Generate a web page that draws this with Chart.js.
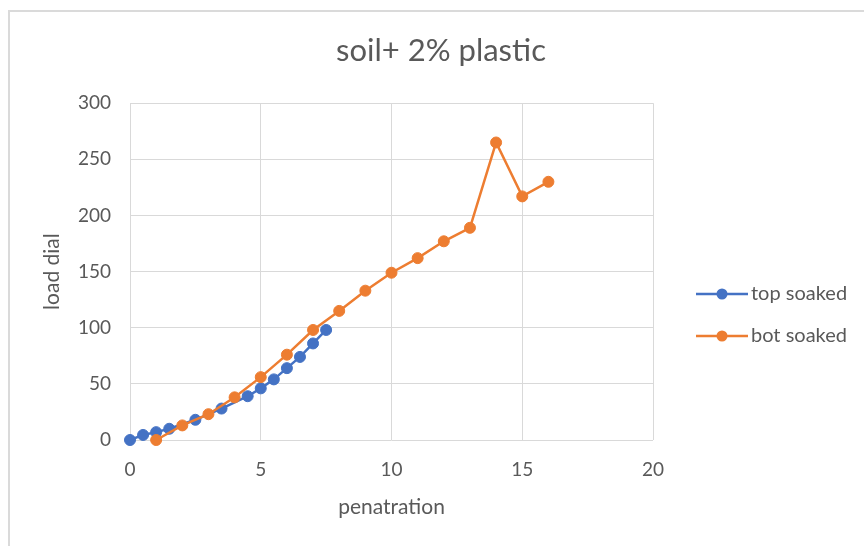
<!DOCTYPE html>
<html lang="en">
<head>
<meta charset="UTF-8"/>
<title>soil+ 2% plastic</title>
<script src="https://cdn.jsdelivr.net/npm/chart.js"></script>
<style>
 html,body{margin:0;padding:0;background:#fff;overflow:hidden}
 #frame{position:absolute;left:8px;top:10px;width:900px;height:600px;border:2px solid #dadada;border-right:none;border-bottom:none}
 canvas{position:absolute;left:0;top:0}
</style>
</head>
<body>
<div id="frame"></div>
<canvas id="chart" width="864" height="546"></canvas>

<script>
// values
const topX    = [0, 0.5, 1, 1.5, 2.5, 3.5, 4.5, 5, 5.5, 6, 6.5, 7, 7.5];
const topLoad = [0, 4.5, 7, 10, 18, 28, 39, 46, 54, 64, 74, 86, 98];
const botX    = [1, 2, 3, 4, 5, 6, 7, 8, 9, 10, 11, 12, 13, 14, 15, 16];
const botLoad = [0, 13, 23, 38, 56, 76, 98, 115, 133, 149, 162, 177, 189, 265, 217, 230];
const xTicks = [0, 5, 10, 15, 20];
const yTicks = [0, 50, 100, 150, 200, 250, 300];
const seriesNames = ['top soaked', 'bot soaked'];
const seriesColors = ['#4472C4', '#ED7D31'];

const FONT = 'Lato, "Open Sans", sans-serif';
const TXT = '#595959';
const GRID = '#d9d9d9';

const pts = (xs, ys) => xs.map((x, i) => ({x, y: ys[i]}));

// excel style legend on the right: short line with a dot, then the name
const sideLegend = {
  id: 'sideLegend',
  afterDraw(chart) {
    const ctx = chart.ctx;
    const ys = [294, 336];
    ctx.save();
    seriesNames.forEach((name, i) => {
      const y = ys[i];
      ctx.strokeStyle = seriesColors[i];
      ctx.lineWidth = 2.5;
      ctx.beginPath(); ctx.moveTo(696, y); ctx.lineTo(748, y); ctx.stroke();
      ctx.fillStyle = seriesColors[i];
      ctx.beginPath(); ctx.arc(722, y, 5.5, 0, Math.PI * 2); ctx.fill();
      ctx.fillStyle = TXT;
      ctx.font = '20px ' + FONT;
      ctx.textAlign = 'left';
      ctx.textBaseline = 'middle';
      ctx.fillText(name, 751, y);
    });
    ctx.restore();
  }
};

const mkSet = (i, data, order) => ({
  label: seriesNames[i],
  data,
  showLine: true,
  borderColor: seriesColors[i],
  backgroundColor: seriesColors[i],
  borderWidth: 2.5,
  pointRadius: 5.5,
  pointBorderWidth: 1,
  clip: false,
  order
});

new Chart(document.getElementById('chart'), {
  type: 'scatter',
  data: {
    datasets: [
      mkSet(0, pts(topX, topLoad), 2),
      mkSet(1, pts(botX, botLoad), 1)
    ]
  },
  options: {
    responsive: false,
    animation: false,
    layout: {padding: {left: 18, top: 0, right: 0, bottom: 0}},
    plugins: {
      legend: {display: false},
      tooltip: {enabled: false},
      title: {
        display: true,
        text: 'soil+ 2% plastic',
        color: TXT,
        font: {family: FONT, size: 31, weight: 'normal'},
        padding: {top: 32, bottom: 34}
      }
    },
    scales: {
      x: {
        type: 'linear', min: 0, max: 20,
        afterBuildTicks: s => { s.ticks = xTicks.map(v => ({value: v})); },
        afterFit: s => { s.height = 106; },
        grid: {color: GRID, drawTicks: false},
        border: {display: false},
        ticks: {color: TXT, font: {family: FONT, size: 19}, padding: 18},
        title: {display: true, text: 'penatration', color: TXT,
                font: {family: FONT, size: 21}, padding: {top: 0, bottom: 26}}
      },
      y: {
        type: 'linear', min: 0, max: 300,
        afterBuildTicks: s => { s.ticks = yTicks.map(v => ({value: v})); },
        afterFit: s => { s.width = 112; },
        grid: {color: GRID, drawTicks: false},
        border: {display: false},
        ticks: {color: TXT, font: {family: FONT, size: 19}, padding: 19},
        title: {display: true, text: 'load dial', color: TXT,
                font: {family: FONT, size: 21}, padding: {top: 22, bottom: 0}}
      },
      yR: {
        type: 'linear', position: 'right', display: true,
        afterFit: s => { s.width = 211; },
        grid: {display: false},
        border: {display: false},
        ticks: {display: false}
      }
    }
  },
  plugins: [sideLegend]
});
</script>
</body>
</html>
